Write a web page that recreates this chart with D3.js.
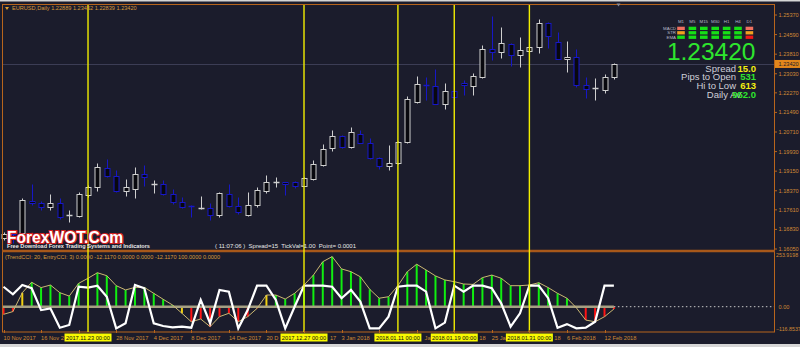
<!DOCTYPE html>
<html>
<head>
<meta charset="utf-8">
<script src="https://d3js.org/d3.v7.min.js"></script>
<style>
  body { margin: 0; background: #1b1c2c; overflow: hidden; }
  svg { display: block; }
  text { font-family: "Liberation Sans", Arial, sans-serif; }
</style>
</head>
<body>
<script>
// daily bars, EURUSD
var dates = ["2017-11-10","2017-11-13","2017-11-14","2017-11-15","2017-11-16","2017-11-17","2017-11-20","2017-11-21","2017-11-22","2017-11-23",
  "2017-11-24","2017-11-27","2017-11-28","2017-11-29","2017-11-30","2017-12-01","2017-12-04","2017-12-05","2017-12-06","2017-12-07",
  "2017-12-08","2017-12-11","2017-12-12","2017-12-13","2017-12-14","2017-12-15","2017-12-18","2017-12-19","2017-12-20","2017-12-21",
  "2017-12-22","2017-12-26","2017-12-27","2017-12-28","2017-12-29","2018-01-02","2018-01-03","2018-01-04","2018-01-05","2018-01-08",
  "2018-01-09","2018-01-10","2018-01-11","2018-01-12","2018-01-15","2018-01-16","2018-01-17","2018-01-18","2018-01-19","2018-01-22",
  "2018-01-23","2018-01-24","2018-01-25","2018-01-26","2018-01-29","2018-01-30","2018-01-31","2018-02-01","2018-02-02","2018-02-05",
  "2018-02-06","2018-02-07","2018-02-08","2018-02-09","2018-02-12","2018-02-13"];

var open = [1.1650,1.1665,1.1669,1.1798,1.1790,1.1772,1.1787,1.1737,1.1738,1.1821,
  1.1850,1.1927,1.1897,1.1838,1.1845,1.1904,1.1862,1.1864,1.1823,1.1794,
  1.1777,1.1768,1.1768,1.1739,1.1825,1.1778,1.1741,1.1781,1.1838,1.1868,
  1.1871,1.1870,1.1856,1.1884,1.1940,1.2009,1.2057,1.2013,1.2063,1.2029,
  1.1967,1.1936,1.1947,1.2030,1.2191,1.2260,1.2254,1.2182,1.2235,1.2268,
  1.2256,1.2291,1.2402,1.2389,1.2420,1.2377,1.2395,1.2408,1.2506,1.2431,
  1.2362,1.2371,1.2258,1.2242,1.2238,1.22889];
var high = [1.1672,1.1675,1.1809,1.1864,1.1798,1.1825,1.1809,1.1761,1.1833,1.1860,
  1.1947,1.1963,1.1920,1.1884,1.1933,1.1940,1.1880,1.1878,1.1845,1.1814,
  1.1781,1.1815,1.1788,1.1834,1.1863,1.1814,1.1834,1.1850,1.1900,1.1891,
  1.1873,1.1874,1.1891,1.1960,1.2024,1.2079,1.2061,1.2090,1.2079,1.2046,
  1.1970,1.2020,1.2036,1.2215,1.2294,1.2289,1.2321,1.2265,1.2237,1.2278,
  1.2305,1.2418,1.2533,1.2490,1.2424,1.2451,1.2412,1.2520,1.2509,1.2470,
  1.2434,1.2402,1.2291,1.2285,1.2302,1.23452];
var low = [1.1640,1.1630,1.1642,1.1781,1.1761,1.1761,1.1725,1.1713,1.1733,1.1813,
  1.1837,1.1893,1.1834,1.1818,1.1810,1.1854,1.1830,1.1821,1.1784,1.1768,
  1.1731,1.1765,1.1721,1.1734,1.1774,1.1746,1.1737,1.1774,1.1830,1.1850,
  1.1821,1.1847,1.1854,1.1880,1.1936,1.1997,1.2009,1.2007,1.2026,1.1963,
  1.1923,1.1921,1.1944,1.2028,1.2186,1.2197,1.2181,1.2163,1.2211,1.2219,
  1.2219,1.2288,1.2358,1.2365,1.2335,1.2331,1.2394,1.2385,1.2404,1.2360,
  1.2311,1.2252,1.2208,1.2199,1.2228,1.22839];
var close = [1.1665,1.1662,1.1801,1.1788,1.1772,1.1790,1.1733,1.1739,1.1825,1.1850,
  1.1931,1.1897,1.1838,1.1850,1.1903,1.1893,1.1864,1.1825,1.1794,1.1773,
  1.1774,1.1770,1.1739,1.1827,1.1778,1.1751,1.1781,1.1841,1.1870,1.1870,
  1.1863,1.1856,1.1887,1.1943,1.2004,1.2057,1.2013,1.2070,1.2029,1.1967,
  1.1936,1.1947,1.2030,1.2202,1.2261,1.2254,1.2183,1.2236,1.2212,1.2258,
  1.2294,1.2402,1.2391,1.2427,1.2378,1.2398,1.2408,1.2506,1.2453,1.2362,
  1.2371,1.2258,1.2242,1.2245,1.2289,1.23420];

// indicator window: TrendCCI(20) histogram + line, EntryCCI(3)
var trendCCI = [-36,-23,66,115,90,102,66,50,110,134,
  160,146,99,79,91,91,63,35,8,-31,
  -71,-58,-94,-47,-31,-71,-47,-8,55,55,
  36,63,102,149,212,236,178,165,141,82,
  40,47,99,165,200,173,145,126,118,107,
  105,137,149,134,99,99,102,113,90,63,
  40,-5,-63,-71,-47,-11];
var entryCCI = [94,58,102,87,-16,-8,-99,-86,94,90,
  99,47,-102,-78,102,87,-78,-91,-97,-94,
  -99,32,-78,79,71,-102,-16,99,99,32,
  -102,0,99,99,99,94,40,79,24,-102,
  -102,-47,94,99,99,71,-102,-75,99,71,
  99,99,87,16,-94,-31,99,99,40,-99,
  -82,-102,-99,-71,99,99];
// 1 = up trend, -1 = down trend, 0 = first bar after a zero cross
var trendState = [-1,-1,0,1,1,1,1,1,1,1,
  1,1,1,1,1,1,1,1,1,0,
  -1,-1,-1,-1,-1,-1,-1,-1,0,1,
  1,1,1,1,1,1,1,1,1,1,
  1,1,1,1,1,1,1,1,1,1,
  1,1,1,1,1,1,1,1,1,1,
  1,0,-1,-1,-1,-1];

var markedDates = ["2017-11-23","2017-12-27","2018-01-11","2018-01-19","2018-01-31"];
var priceTicks = [1.25370,1.24590,1.23810,1.23030,1.22270,1.21490,1.20710,1.19930,1.19150,1.18370,1.17610,1.16830,1.16050];
var cciTicks = [253.9198, 0, -116.8537];
var lastPrice = 1.23420;

var timeframes = ["M1","M5","M15","M30","H1","H4","D1"];
var signalRows = ["MACD","STR","EMA"];
// 2 strong up, 1 weak, -1 weak down, -2 strong down
var signals = [[-1,2,2,2,2,2,-1],[1,2,2,2,2,2,1],[2,2,2,2,2,2,-2]];
var statLabels = ["Spread","Pips to Open","Hi to Low","Daily Av"];
var statValues = ["15.0","531","613","952.0"];

var W = 800, H = 347;
var bg = "#1b1c2c", frame = "#b8651c", axisText = "#cf8a35";
var bull = "#cfcfcf", bear = "#1717c8";

var parse = d3.timeParse("%Y-%m-%d");
var fmtLabel = d3.timeFormat("%-d %b %Y");
var fmtMark = d3.timeFormat("%Y.%m.%d 00:00");

var svg = d3.select("body").append("svg").attr("width", W).attr("height", H);
svg.append("rect").attr("width", W).attr("height", H).attr("fill", bg);
svg.append("rect").attr("width", W).attr("height", 1.5).attr("fill", "#d6d6d6");
svg.append("rect").attr("y", 344).attr("width", W).attr("height", 3).attr("fill", "#d6d6d6");

var x = d3.scalePoint().domain(dates).range([3.5, 613.9]);
var y = d3.scaleLinear().domain([1.16050, 1.25370]).range([249, 15]);
var yc = d3.scaleLinear().domain([-116.8537, 253.9198]).range([331.5, 252.8]);

function px(d) { return Math.round(x(d)) + 0.5; }
function py(v) { return Math.round(y(v)) + 0.5; }

var bars = dates.map(function(d, i) {
  return {date: d, o: open[i], h: high[i], l: low[i], c: close[i], t: trendCCI[i], e: entryCCI[i], s: trendState[i]};
});

// bid line
svg.append("line").attr("x1", 2).attr("x2", 774).attr("y1", py(lastPrice)).attr("y2", py(lastPrice))
  .attr("stroke", "#3c3d55").attr("stroke-width", 1);

// candles
var cg = svg.append("g");
bars.forEach(function(b) {
  var up = b.c >= b.o, col = up ? bull : bear, xc = px(b.date);
  cg.append("line").attr("x1", xc).attr("x2", xc).attr("y1", py(b.h)).attr("y2", py(b.l))
    .attr("stroke", col).attr("stroke-width", 1);
  var top = py(Math.max(b.o, b.c)), bot = py(Math.min(b.o, b.c));
  if (bot - top < 1.5) {
    cg.append("line").attr("x1", xc - 3).attr("x2", xc + 3).attr("y1", top).attr("y2", top)
      .attr("stroke", col).attr("stroke-width", 1.5);
  } else {
    cg.append("rect").attr("x", xc - 2.5).attr("y", top).attr("width", 5).attr("height", bot - top)
      .attr("fill", "#08080e").attr("stroke", col).attr("stroke-width", 1);
  }
});

// indicator window
var zeroY = yc(0);
var ig = svg.append("g");
var stateCol = {"1": "#10ee10", "-1": "#ff1414", "0": "#f0d010"};
bars.forEach(function(b) {
  ig.append("line").attr("x1", x(b.date)).attr("x2", x(b.date)).attr("y1", zeroY).attr("y2", yc(b.t))
    .attr("stroke", stateCol[b.s]).attr("stroke-width", 2);
});
ig.append("line").attr("x1", 3).attr("x2", x(dates[dates.length - 1])).attr("y1", zeroY).attr("y2", zeroY)
  .attr("stroke", "#a59f82").attr("stroke-width", 2.6);
ig.append("line").attr("x1", x(dates[dates.length - 1])).attr("x2", 774).attr("y1", zeroY).attr("y2", zeroY)
  .attr("stroke", "#c8c8c8").attr("stroke-width", 1).attr("stroke-dasharray", "1.5,2.5");
ig.append("path").datum(bars)
  .attr("d", d3.line().x(function(b) { return x(b.date); }).y(function(b) { return yc(b.t); }))
  .attr("fill", "none").attr("stroke", "#cbb872").attr("stroke-width", 1);
ig.append("path").datum(bars)
  .attr("d", d3.line().x(function(b) { return x(b.date); }).y(function(b) { return yc(b.e); }))
  .attr("fill", "none").attr("stroke", "#ffffff").attr("stroke-width", 2.2);

// frame
svg.append("line").attr("x1", 2).attr("x2", 774.5).attr("y1", 4.5).attr("y2", 4.5).attr("stroke", frame);
svg.append("line").attr("x1", 2.5).attr("x2", 2.5).attr("y1", 4).attr("y2", 332).attr("stroke", frame);
svg.append("line").attr("x1", 774.5).attr("x2", 774.5).attr("y1", 4).attr("y2", 332).attr("stroke", frame);
svg.append("line").attr("x1", 2).attr("x2", 775).attr("y1", 251).attr("y2", 251).attr("stroke", "#a8581a").attr("stroke-width", 2.5);
svg.append("line").attr("x1", 2).attr("x2", 775).attr("y1", 332).attr("y2", 332).attr("stroke", frame).attr("stroke-width", 1);
svg.append("path").attr("d", "M616.5,3.5 L620.5,3.5 L618.5,6.5 Z").attr("fill", "#8a8a96");

// marked dates
svg.selectAll(".vline").data(markedDates).enter().append("line")
  .attr("x1", function(d) { return x(d); }).attr("x2", function(d) { return x(d); })
  .attr("y1", 5).attr("y2", 332).attr("stroke", "#f2ee00").attr("stroke-width", 1.4);

// price axis
var ax = svg.append("g").style("font-size", "5.6px").attr("fill", axisText);
priceTicks.forEach(function(p) {
  ax.append("line").attr("x1", 774).attr("x2", 777).attr("y1", y(p)).attr("y2", y(p)).attr("stroke", frame);
  ax.append("text").attr("x", 778.5).attr("y", y(p) + 2).text(d3.format(".5f")(p));
});
ax.append("rect").attr("x", 775).attr("y", y(lastPrice) - 4).attr("width", 26).attr("height", 8).attr("fill", "#e3871b");
ax.append("text").attr("x", 778.5).attr("y", y(lastPrice) + 2).attr("fill", "#1b1c2c").text(d3.format(".5f")(lastPrice));
cciTicks.forEach(function(v, i) {
  var ty = i === 0 ? yc(v) + 4.5 : (i === 2 ? yc(v) - 0.5 : yc(v) + 2);
  ax.append("text").attr("x", i === 1 ? 778.5 : 776).attr("y", ty)
    .style("font-size", i === 1 ? "5.6px" : "5.3px")
    .text(i === 1 ? "0.00" : d3.format(".4f")(v));
});

// time axis: labels partly hidden by the marked-date boxes
var tg = svg.append("g").style("font-size", "5.7px");
var boxes = markedDates.map(function(d) { return [x(d) - 23.5, x(d) + 23.5]; });
dates.forEach(function(d, i) {
  if (i % 4 !== 0) return;
  tg.append("line").attr("x1", px(d)).attr("x2", px(d)).attr("y1", 330).attr("y2", 333).attr("stroke", frame);
  var t = tg.append("text").attr("x", x(d)).attr("y", 340).attr("fill", axisText).text(fmtLabel(parse(d)));
  var node = t.node(), s = node.textContent, runs = [], cur = null;
  for (var k = 0; k < s.length; k++) {
    var a = node.getStartPositionOfChar(k).x, b = node.getEndPositionOfChar(k).x;
    var hidden = boxes.some(function(bx) { return b > bx[0] + 0.5 && a < bx[1] - 0.5; });
    if (hidden) { cur = null; continue; }
    if (!cur) {
      if (s[k] === " ") continue;
      cur = {x: a, s: ""};
      runs.push(cur);
    }
    cur.s += s[k];
  }
  t.remove();
  runs.forEach(function(r) {
    tg.append("text").attr("x", r.x).attr("y", 340).attr("fill", axisText).text(r.s.trim());
  });
});
markedDates.forEach(function(d) {
  tg.append("rect").attr("x", x(d) - 23.5).attr("y", 333.5).attr("width", 47).attr("height", 8).attr("fill", "#fafa00");
  tg.append("text").attr("x", x(d)).attr("y", 340).attr("text-anchor", "middle").attr("fill", "#101010")
    .text(fmtMark(parse(d)));
});

// chart titles
svg.append("path").attr("d", "M5,7 L9,7 L7,10 Z").attr("fill", "#e0a030");
svg.append("text").attr("x", 12).attr("y", 10).attr("fill", "#d99a3a").style("font-size", "5.6px")
  .text("EURUSD,Daily  " + [bars[65].o, bars[65].h, bars[65].l, bars[65].c].map(d3.format(".5f")).join(" "));
svg.append("text").attr("x", 5).attr("y", 258.5).attr("fill", "#d99a3a").style("font-size", "5.6px")
  .text("(TrendCCI: 20, EntryCCI: 3)  0.0000 -12.1170 0.0000 0.0000 -12.1170 100.0000 0.0000");

// watermark
svg.append("text").attr("x", 7).attr("y", 243).style("font-size", "15.6px").style("font-weight", "bold")
  .attr("fill", "#ffffff").attr("stroke", "#d42020").attr("stroke-width", 2.2).attr("paint-order", "stroke")
  .text("ForexWOT.Com");
svg.append("text").attr("x", 7).attr("y", 247.8).style("font-size", "5.6px").style("font-weight", "bold")
  .attr("fill", "#e8e8e8").text("Free Download Forex Trading Systems and Indicators");
svg.append("text").attr("x", 215).attr("y", 247.8).style("font-size", "6px")
  .attr("fill", "#e8e8e8").attr("xml:space", "preserve")
  .text("( 11:07:06 )  Spread=15  TickVal=1.00  Point= 0.0001");

// info panel
var ip = svg.append("g");
var sigCol = {"2": "#16e016", "1": "#f0a020", "-1": "#f07060", "-2": "#f01818"};
timeframes.forEach(function(tf, j) {
  var cx = 681 + j * 11.4;
  ip.append("text").attr("x", cx).attr("y", 22.5).attr("text-anchor", "middle").style("font-size", "4.4px")
    .attr("fill", "#b8b8c8").text(tf);
  signals.forEach(function(row, r) {
    ip.append("rect").attr("x", cx - 3.8).attr("y", 26.7 + r * 4.45).attr("width", 7.6).attr("height", 3.3)
      .attr("fill", sigCol[row[j]]);
  });
});
signalRows.forEach(function(s, r) {
  ip.append("text").attr("x", 676).attr("y", 29.8 + r * 4.45).attr("text-anchor", "end").style("font-size", "4.4px")
    .attr("fill", "#b8b8c8").text(s);
});
ip.append("text").attr("x", 755.5).attr("y", 60).attr("text-anchor", "end").style("font-size", "24.5px")
  .attr("fill", "#2ee62e").text(d3.format(".5f")(lastPrice));
var statCol = ["#f2ee10", "#2ee62e", "#f2ee10", "#2ee62e"];
statLabels.forEach(function(s, i) {
  var by = 71.7 + i * 8.75;
  ip.append("text").attr("x", i === 3 ? 741 : 736).attr("y", by).attr("text-anchor", "end").style("font-size", "9.5px")
    .attr("fill", "#cfcfd8").text(s);
  ip.append("text").attr("x", 756).attr("y", by).attr("text-anchor", "end").style("font-size", "9.5px")
    .style("font-weight", "bold").attr("fill", statCol[i]).text(statValues[i]);
});
</script>
</body>
</html>
